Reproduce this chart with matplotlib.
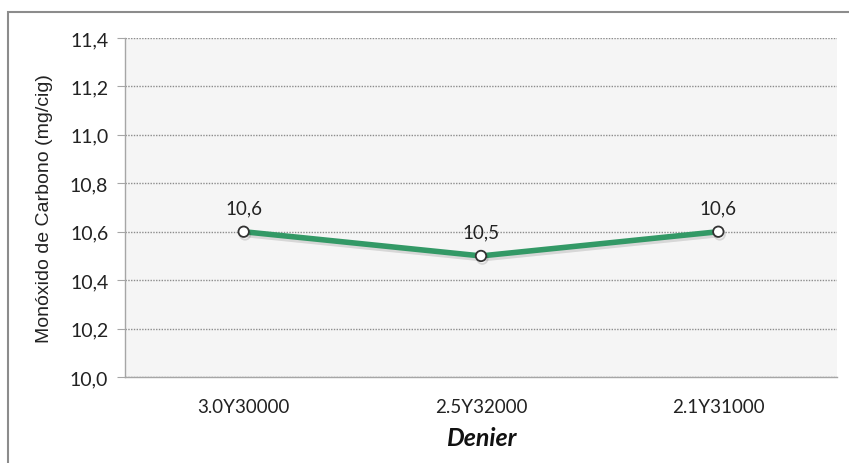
import matplotlib.pyplot as plt
import matplotlib.patheffects as pe
from matplotlib.patches import Rectangle
from matplotlib.ticker import FuncFormatter

categories = ['3.0Y30000', '2.5Y32000', '2.1Y31000']
co_values = [10.6, 10.5, 10.6]
y_ticks = [10.0, 10.2, 10.4, 10.6, 10.8, 11.0, 11.2, 11.4]

plt.rcParams['font.family'] = ['Lato', 'DejaVu Sans']

fig = plt.figure(figsize=(8.49, 4.64), dpi=100)
fig.patch.set_facecolor('white')

# chart frame (right and bottom edges fall outside the canvas)
fig.patches.append(Rectangle((8 / 849, -0.05), 1.1, (464 - 13) / 464 + 0.05,
                             transform=fig.transFigure, fill=False,
                             edgecolor='#8c8c8c', linewidth=1.5))

ax = fig.add_axes([125 / 849, 86 / 464, 712 / 849, 339 / 464])
ax.set_facecolor('#f5f5f5')

x = list(range(len(categories)))
ax.plot(x, co_values, color='#339966', linewidth=4.0, solid_capstyle='round',
        marker='o', markersize=7.5, markerfacecolor='white',
        markeredgecolor='#333333', markeredgewidth=1.3, zorder=3,
        path_effects=[pe.SimpleLineShadow(offset=(1, -2), alpha=0.12), pe.Normal()])

for xi, v in zip(x, co_values):
    ax.annotate(f'{v:.1f}'.replace('.', ','), (xi, v), xytext=(0, 11),
                textcoords='offset points', ha='center', va='bottom',
                fontsize=13.5, color='#222222')

ax.set_xlim(-0.5, len(categories) - 0.5)
ax.set_ylim(y_ticks[0], y_ticks[-1])
ax.set_yticks(y_ticks)
ax.yaxis.set_major_formatter(FuncFormatter(lambda v, p: f'{v:.1f}'.replace('.', ',')))
ax.set_xticks(x)
ax.set_xticklabels(categories)

ax.grid(axis='y', linestyle=(0, (1, 1)), color='#8c8c8c', linewidth=1.0)
ax.set_axisbelow(True)

for side in ['top', 'right']:
    ax.spines[side].set_visible(False)
for side in ['left', 'bottom']:
    ax.spines[side].set_color('#a6a6a6')
    ax.spines[side].set_linewidth(1.0)

ax.tick_params(axis='y', length=6, color='#a6a6a6', labelsize=14, pad=6, labelcolor='#222222')
ax.tick_params(axis='x', length=0, labelsize=13.5, pad=15, labelcolor='#222222')

ax.set_ylabel('Monóxido de Carbono (mg/cig)', family=['Liberation Sans', 'DejaVu Sans'],
              fontsize=14, labelpad=12, color='#222222')
ax.set_xlabel('Denier', fontsize=18, fontweight='bold', fontstyle='italic',
              labelpad=8, color='#111111')

fig.savefig('out.png', dpi=100)
